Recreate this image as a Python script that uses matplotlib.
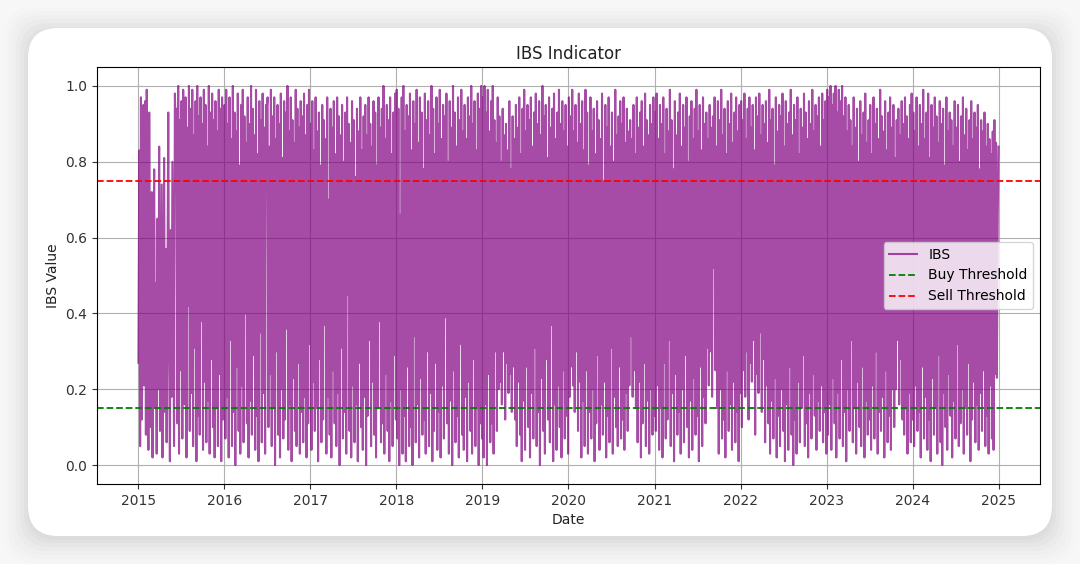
import matplotlib
matplotlib.use("Agg")
import matplotlib.pyplot as plt
import matplotlib.dates as mdates
from matplotlib.patches import FancyBboxPatch
import numpy as np
import pandas as pd

# ---- data (twice-weekly IBS readings) ----
ibs_2015 = [0.27, 0.83, 0.05, 0.97, 0.12, 0.30, 0.95, 0.21, 0.96, 0.08, 0.99, 0.60, 0.04, 0.93, 0.35, 0.10,
            0.72, 0.02, 0.55, 0.78, 0.15, 0.48, 0.03, 0.65, 0.20, 0.84, 0.09, 0.41, 0.74, 0.02, 0.36, 0.81,
            0.14, 0.57, 0.06, 0.45, 0.93, 0.30, 0.01, 0.62, 0.18, 0.80, 0.40, 0.05, 0.98, 0.88, 0.94, 0.11,
            1.00, 0.03, 0.91, 0.25, 0.96, 0.07, 0.99, 0.85, 0.16, 0.97, 0.02, 0.89, 0.42, 1.00, 0.09, 0.94,
            0.19, 0.99, 0.05, 0.87, 0.31, 0.96, 0.01, 1.00, 0.13, 0.92, 0.08, 0.97, 0.38, 0.90, 0.04, 0.99,
            0.22, 0.95, 0.06, 0.84, 0.17, 1.00, 0.03, 0.93, 0.28, 0.98, 0.10, 0.91, 0.02, 0.96, 0.15, 0.88,
            0.05, 0.99, 0.24, 0.94, 0.01, 0.97, 0.12, 0.86]
ibs_2016 = [0.95, 0.07, 0.99, 0.18, 0.90, 0.02, 0.97, 0.33, 0.86, 0.05, 1.00, 0.14, 0.93, 0.00, 0.88, 0.26,
            0.98, 0.09, 0.79, 0.03, 0.95, 0.21, 0.99, 0.06, 0.92, 0.40, 0.85, 0.11, 0.97, 0.02, 0.90, 0.17,
            1.00, 0.08, 0.94, 0.29, 0.87, 0.04, 0.99, 0.13, 0.82, 0.01, 0.96, 0.35, 0.91, 0.06, 0.98, 0.19,
            0.89, 0.03, 0.95, 0.94, 0.97, 0.10, 0.84, 0.24, 0.99, 0.05, 0.92, 0.15, 0.97, 0.00, 0.86, 0.30,
            0.95, 0.08, 0.90, 0.02, 0.98, 0.20, 0.81, 0.07, 0.96, 0.12, 0.93, 0.36, 1.00, 0.04, 0.88, 0.16,
            0.97, 0.01, 0.91, 0.23, 0.85, 0.09, 0.99, 0.05, 0.94, 0.27, 0.89, 0.03, 0.96, 0.14, 0.92, 0.06,
            0.98, 0.18, 0.87, 0.02, 0.95, 0.11, 0.99, 0.32]
ibs_2017 = [0.90, 0.04, 0.96, 0.22, 0.83, 0.09, 0.97, 0.15, 0.88, 0.01, 0.93, 0.28, 0.79, 0.06, 0.95, 0.12,
            0.91, 0.37, 0.86, 0.03, 0.97, 0.18, 0.70, 0.08, 0.94, 0.02, 0.89, 0.25, 0.96, 0.11, 0.82, 0.05,
            0.97, 0.19, 0.92, 0.00, 0.87, 0.31, 0.95, 0.07, 0.80, 0.14, 0.93, 0.03, 0.97, 0.45, 0.90, 0.09,
            0.85, 0.02, 0.96, 0.21, 0.91, 0.06, 0.76, 0.16, 0.94, 0.01, 0.88, 0.27, 0.97, 0.10, 0.83, 0.04,
            0.92, 0.18, 0.95, 0.00, 0.87, 0.13, 0.97, 0.33, 0.90, 0.05, 0.84, 0.22, 0.96, 0.08, 0.93, 0.02,
            0.79, 0.15, 0.97, 0.38, 0.89, 0.06, 0.94, 0.11, 1.00, 0.03, 0.86, 0.24, 0.95, 0.09, 0.91, 0.01,
            0.97, 0.17, 0.82, 0.05, 0.93, 0.29, 0.98, 0.12]
ibs_2018 = [0.99, 0.07, 0.94, 0.00, 0.66, 0.20, 0.97, 0.03, 1.00, 0.13, 0.88, 0.01, 0.95, 0.26, 0.92, 0.05,
            0.98, 0.10, 0.83, 0.00, 0.96, 0.34, 0.90, 0.06, 0.99, 0.16, 0.85, 0.02, 0.97, 0.23, 0.93, 0.08,
            0.78, 0.12, 0.98, 0.03, 0.91, 0.30, 0.96, 0.05, 0.87, 0.19, 1.00, 0.01, 0.94, 0.09, 0.82, 0.27,
            0.97, 0.04, 0.90, 0.14, 0.99, 0.02, 0.86, 0.21, 0.95, 0.07, 0.92, 0.39, 0.98, 0.11, 0.80, 0.03,
            0.96, 0.17, 0.89, 0.00, 1.00, 0.25, 0.93, 0.06, 0.84, 0.13, 0.97, 0.02, 0.91, 0.32, 0.99, 0.08,
            0.88, 0.04, 0.95, 0.18, 0.86, 0.01, 0.97, 0.22, 0.92, 0.09, 1.00, 0.03, 0.90, 0.28, 0.96, 0.05,
            0.83, 0.15, 0.98, 0.00, 0.94, 0.11, 1.00, 0.07]
ibs_2019 = [0.97, 0.02, 1.00, 0.16, 0.93, 0.00, 0.99, 0.24, 0.88, 0.06, 0.96, 0.11, 1.00, 0.03, 0.91, 0.30,
            0.85, 0.09, 0.97, 0.20, 0.92, 0.22, 0.80, 0.16, 0.94, 0.30, 0.87, 0.12, 0.90, 0.27, 0.83, 0.19,
            0.96, 0.24, 0.78, 0.14, 0.92, 0.26, 0.86, 0.12, 0.95, 0.05, 0.89, 0.22, 0.97, 0.08, 0.82, 0.01,
            0.94, 0.17, 0.99, 0.04, 0.88, 0.26, 0.95, 0.10, 0.91, 0.02, 0.97, 0.19, 0.84, 0.07, 0.93, 0.31,
            0.98, 0.05, 0.90, 0.14, 0.96, 0.00, 0.87, 0.23, 1.00, 0.09, 0.92, 0.03, 0.95, 0.28, 0.81, 0.12,
            0.97, 0.06, 0.89, 0.37, 0.94, 0.01, 0.98, 0.16, 0.86, 0.04, 0.93, 0.21, 0.99, 0.10, 0.90, 0.02,
            0.96, 0.25, 0.88, 0.07, 0.95, 0.13, 0.84, 0.03]
ibs_2020 = [0.97, 0.18, 0.92, 0.26, 0.99, 0.21, 0.88, 0.14, 0.95, 0.30, 0.85, 0.09, 0.98, 0.22, 0.90, 0.02,
            0.96, 0.17, 0.83, 0.05, 0.99, 0.25, 0.93, 0.03, 0.79, 0.14, 0.97, 0.07, 0.88, 0.20, 0.94, 0.01,
            0.82, 0.11, 0.96, 0.29, 0.91, 0.04, 0.86, 0.16, 0.98, 0.08, 0.75, 0.22, 0.95, 0.02, 0.89, 0.13,
            0.97, 0.06, 0.84, 0.31, 0.93, 0.03, 0.80, 0.18, 0.99, 0.10, 0.87, 0.05, 0.92, 0.26, 0.96, 0.07,
            0.90, 0.12, 0.97, 0.04, 0.85, 0.19, 0.94, 0.09, 0.88, 0.21, 0.91, 0.34, 0.86, 0.18, 0.95, 0.25,
            0.82, 0.15, 0.97, 0.06, 0.89, 0.22, 0.93, 0.02, 0.96, 0.11, 0.84, 0.27, 0.98, 0.05, 0.91, 0.17,
            0.87, 0.03, 0.95, 0.20, 0.90, 0.08, 0.97, 0.13]
ibs_2021 = [0.93, 0.09, 0.98, 0.21, 0.86, 0.04, 0.95, 0.15, 0.90, 0.02, 0.97, 0.27, 0.82, 0.07, 0.94, 0.12,
            0.88, 0.33, 0.99, 0.05, 0.91, 0.19, 0.78, 0.01, 0.96, 0.24, 0.87, 0.08, 0.93, 0.14, 0.98, 0.03,
            0.84, 0.20, 0.95, 0.06, 0.89, 0.29, 0.97, 0.10, 0.80, 0.02, 0.92, 0.17, 0.96, 0.04, 0.86, 0.23,
            0.94, 0.08, 0.99, 0.13, 0.88, 0.01, 0.95, 0.26, 0.83, 0.05, 0.97, 0.18, 0.90, 0.11, 0.93, 0.31,
            0.86, 0.21, 0.95, 0.30, 0.89, 0.18, 0.92, 0.52, 0.97, 0.25, 0.84, 0.15, 0.96, 0.03, 0.91, 0.20,
            0.99, 0.07, 0.87, 0.12, 0.94, 0.02, 0.82, 0.25, 0.96, 0.09, 0.90, 0.16, 0.98, 0.04, 0.85, 0.22,
            0.93, 0.06, 0.97, 0.14, 0.88, 0.01, 0.95, 0.19]
ibs_2022 = [0.96, 0.10, 0.91, 0.25, 0.98, 0.18, 0.86, 0.30, 0.94, 0.12, 0.97, 0.27, 0.89, 0.22, 0.95, 0.33,
            0.83, 0.08, 0.97, 0.24, 0.92, 0.19, 0.98, 0.35, 0.87, 0.14, 0.95, 0.28, 0.90, 0.06, 0.96, 0.21,
            0.85, 0.11, 0.99, 0.03, 0.91, 0.17, 0.94, 0.07, 0.79, 0.23, 0.97, 0.02, 0.88, 0.13, 0.95, 0.05,
            0.92, 0.20, 0.98, 0.09, 0.84, 0.01, 0.96, 0.16, 0.90, 0.04, 0.93, 0.26, 0.99, 0.08, 0.87, 0.00,
            0.95, 0.12, 0.91, 0.03, 0.97, 0.22, 0.82, 0.06, 0.94, 0.15, 0.89, 0.29, 0.98, 0.05, 0.93, 0.11,
            0.86, 0.02, 0.96, 0.19, 0.90, 0.07, 0.99, 0.24, 0.88, 0.13, 0.95, 0.04, 0.92, 0.17, 0.97, 0.09,
            0.84, 0.21, 0.98, 0.06, 0.91, 0.14, 0.96, 0.03]
ibs_2023 = [0.99, 0.08, 0.97, 0.16, 1.00, 0.04, 0.95, 0.23, 0.98, 0.11, 1.00, 0.02, 0.93, 0.19, 0.99, 0.07,
            0.96, 0.28, 1.00, 0.05, 0.92, 0.14, 0.97, 0.01, 0.88, 0.20, 0.95, 0.09, 0.91, 0.33, 0.84, 0.06,
            0.97, 0.15, 0.89, 0.03, 0.94, 0.22, 0.80, 0.10, 0.96, 0.05, 0.87, 0.26, 0.93, 0.02, 0.98, 0.17,
            0.85, 0.08, 0.91, 0.12, 0.95, 0.04, 0.82, 0.21, 0.97, 0.07, 0.90, 0.30, 0.94, 0.03, 0.86, 0.14,
            0.99, 0.09, 0.92, 0.18, 0.88, 0.02, 0.96, 0.25, 0.83, 0.06, 0.93, 0.13, 0.97, 0.04, 0.89, 0.20,
            0.95, 0.10, 0.81, 0.20, 0.91, 0.33, 0.94, 0.16, 0.87, 0.28, 0.96, 0.12, 0.90, 0.08, 0.97, 0.15,
            0.92, 0.03, 0.86, 0.19, 0.95, 0.06, 0.98, 0.12]
ibs_2024 = [0.93, 0.05, 0.88, 0.21, 0.97, 0.09, 0.84, 0.14, 0.95, 0.02, 0.90, 0.26, 0.99, 0.07, 0.86, 0.18,
            0.93, 0.04, 0.98, 0.12, 0.81, 0.01, 0.95, 0.23, 0.89, 0.08, 0.97, 0.15, 0.92, 0.03, 0.85, 0.29,
            0.96, 0.06, 0.90, 0.00, 0.94, 0.19, 0.79, 0.10, 0.97, 0.04, 0.88, 0.24, 0.93, 0.13, 0.91, 0.02,
            0.84, 0.17, 0.96, 0.07, 0.89, 0.32, 0.95, 0.05, 0.80, 0.11, 0.92, 0.20, 0.97, 0.03, 0.87, 0.15,
            0.94, 0.08, 0.83, 0.27, 0.91, 0.01, 0.96, 0.12, 0.86, 0.22, 0.93, 0.06, 0.89, 0.16, 0.95, 0.04,
            0.78, 0.19, 0.91, 0.09, 0.88, 0.25, 0.93, 0.05, 0.84, 0.13, 0.90, 0.03, 0.86, 0.21, 0.82, 0.07,
            0.88, 0.04, 0.91, 0.24, 0.85, 0.23, 0.65, 0.84]

buy_threshold = 0.15
sell_threshold = 0.75
start_date = "2015-01-02"
end_date = "2024-12-31"

ibs = np.array(ibs_2015 + ibs_2016 + ibs_2017 + ibs_2018 + ibs_2019 +
               ibs_2020 + ibs_2021 + ibs_2022 + ibs_2023 + ibs_2024)
dates = pd.date_range(start_date, end_date, periods=len(ibs))

# ---- figure with card background ----
W, H, DPI = 1080, 564, 100
fig = plt.figure(figsize=(W / DPI, H / DPI), dpi=DPI)
fig.patch.set_facecolor("#f7f7f7")

cx0, cy0, cx1, cy1 = 28, 28, 1052, 536  # card in pixels (top-left origin)
def card(pad, color, alpha, dy=0):
    x0 = (cx0 - pad) / W
    y0 = (H - cy1 - pad - dy) / H
    w = (cx1 - cx0 + 2 * pad) / W
    h = (cy1 - cy0 + 2 * pad) / H
    p = FancyBboxPatch((x0, y0), w, h,
                       boxstyle="round,pad=0,rounding_size=0.028",
                       transform=fig.transFigure, facecolor=color,
                       edgecolor="none", alpha=alpha, zorder=-5,
                       mutation_aspect=W / H)
    fig.patches.append(p)

for pad, a in [(24, 0.008), (20, 0.01), (16, 0.012), (12, 0.015), (8, 0.018), (4, 0.02), (1, 0.02)]:
    card(pad, "#000000", a, dy=3)
card(0, "#ffffff", 1.0)

ax = fig.add_axes([97 / W, (H - 484) / H, (1040 - 97) / W, (484 - 67) / H])
ax.set_facecolor("white")
ax.set_zorder(5)

ax.plot(dates, ibs, color="purple", alpha=0.7, lw=1.5, label="IBS")
ax.axhline(buy_threshold, color="green", ls="--", lw=1.3, label="Buy Threshold")
ax.axhline(sell_threshold, color="red", ls="--", lw=1.3, label="Sell Threshold")

ax.set_xlim(mdates.date2num(pd.Timestamp("2014-07-10")),
            mdates.date2num(pd.Timestamp("2025-06-25")))
ax.set_ylim(-0.05, 1.05)
ax.xaxis.set_major_locator(mdates.YearLocator())
ax.xaxis.set_major_formatter(mdates.DateFormatter("%Y"))
ax.set_yticks([0.0, 0.2, 0.4, 0.6, 0.8, 1.0])

ax.set_title("IBS Indicator", fontsize=12, color="#222222")
ax.set_xlabel("Date", fontsize=10, color="#222222")
ax.set_ylabel("IBS Value", fontsize=10, color="#222222")
ax.tick_params(labelsize=10, colors="#333333")
ax.grid(True, color="#b0b0b0", lw=0.8)
ax.legend(loc="center right", fontsize=10)

fig.savefig("out.png", dpi=DPI, facecolor=fig.get_facecolor())
